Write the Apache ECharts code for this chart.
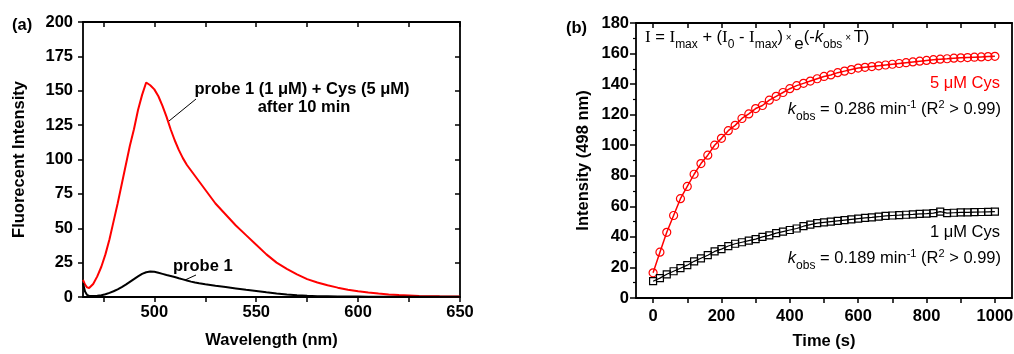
<!DOCTYPE html>
<html>
<head>
<meta charset="utf-8">
<script src="https://cdn.jsdelivr.net/npm/echarts@6/dist/echarts.min.js"></script>
<style>
  html, body { margin: 0; padding: 0; background: #fff; }
  #chart { width: 1014px; height: 354px; }
</style>
</head>
<body>
<div id="chart"></div>
<script>
// (a) emission spectra
const wavelength = [465, 466, 467, 468, 470, 472, 474, 476, 478, 480, 482, 484, 486, 488, 490, 492, 494, 496, 498, 500,
  502, 504, 506, 508, 510, 512, 514, 516, 518, 520, 522, 525, 530, 535, 540, 545, 550, 555, 560, 565,
  570, 575, 580, 585, 590, 595, 600, 605, 610, 615, 620, 630, 640, 650];
const probeCys = [12.5, 9, 7, 6.5, 9.5, 15, 22, 31, 42, 55, 68, 82, 96, 110, 122, 136, 147, 156, 154, 151,
  146, 139, 131, 122, 114, 107, 101, 96, 92, 88, 84, 78, 68, 60, 52, 45, 38, 31, 25, 20.5,
  16.5, 13, 10.5, 8.5, 6.8, 5.3, 4.2, 3.3, 2.5, 1.9, 1.4, 0.8, 0.5, 0.3];
const probeOnly = [10, 4, 1.5, 0.8, 0.7, 0.9, 1.3, 2, 3, 4.2, 5.6, 7.2, 9, 11, 13, 15, 16.8, 18, 18.5, 18.3,
  17.6, 16.8, 16, 15.3, 14.5, 13.6, 12.8, 12, 11.2, 10.5, 10, 9.3, 8.2, 7.2, 6.2, 5.2, 4.3, 3.4, 2.6, 1.9,
  1.3, 0.9, 0.6, 0.5, 0.4, 0.3, 0.3, 0.25, 0.2, 0.2, 0.2, 0.15, 0.1, 0.1];
const wlTicks = [475, 500, 525, 550, 575, 600, 625, 650];
const wlLabels = [500, 550, 600, 650];

// (b) kinetics
const timeS = [0, 20, 40, 60, 80, 100, 120, 140, 160, 180, 200, 220, 240, 260, 280, 300, 320, 340, 360, 380,
  400, 420, 440, 460, 480, 500, 520, 540, 560, 580, 600, 620, 640, 660, 680, 700, 720, 740, 760, 780,
  800, 820, 840, 860, 880, 900, 920, 940, 960, 980, 1000];
const cys5 = [16.5, 30, 43, 54, 65, 73, 81, 88, 93.5, 100, 104.5, 109.5, 113, 117.5, 120.5, 124, 126, 129.5, 132, 134.5,
  137, 139, 140.5, 142, 143.5, 145, 146, 147.5, 148.5, 149.5, 150.5, 151, 151.5, 152, 152.5, 153, 153.5, 154, 154.5, 155,
  155.5, 156, 156.3, 156.6, 157, 157.2, 157.4, 157.6, 157.8, 158, 158.2];
const cys1 = [11, 13, 15.5, 17.5, 19.5, 21.5, 24, 26, 28, 30.5, 32, 34, 35.5, 36.5, 37.5, 38.5, 40, 41, 42.5, 43.5,
  44.5, 45.5, 47, 48, 49, 49.5, 50, 50.5, 51, 51.5, 52, 52.5, 52.8, 53.2, 53.7, 54, 54.2, 54.5, 54.7, 55,
  55.2, 55.5, 56.5, 55.6, 55.8, 56, 56, 56.2, 56.3, 56.4, 56.5];
const timeTicks = [0, 100, 200, 300, 400, 500, 600, 700, 800, 900, 1000];
const timeLabels = [0, 200, 400, 600, 800, 1000];

const SANS = 'Liberation Sans, Arial, sans-serif';
const FS = 16.5;
const zip = (xs, ys) => xs.map((x, i) => [x, ys[i]]);

const boldLabel = {
  color: '#000', fontFamily: SANS, fontWeight: 'bold', fontSize: FS,
  formatter: (v) => String(v)
};
const line = { show: true, onZero: false, lineStyle: { color: '#000', width: 1.8 } };
const tick = (inside, customValues, length) => ({
  show: true, inside, length: length || 5, customValues,
  lineStyle: { color: '#000', width: 1.5 }
});
const nameStyle = { color: '#000', fontFamily: SANS, fontWeight: 'bold', fontSize: FS };

// rich styles for sub/superscripts (all top aligned, padding shifts them down)
const tok = (size, pad, extra) => Object.assign({
  fontFamily: SANS, fontSize: size, color: '#000', lineHeight: 24,
  verticalAlign: 'top', padding: [pad, 0, 0, 0]
}, extra || {});
const rich = {
  m: tok(FS, 2),
  I: tok(17, 2, { fontFamily: 'Liberation Serif, Times New Roman, serif' }),
  s: tok(12, 12),
  x: tok(10, 6),
  e: tok(17, 9),
  k: tok(FS, 2, { fontStyle: 'italic' }),
  p: tok(11, 0)
};

const chart = echarts.init(document.getElementById('chart'));
chart.setOption({
  animation: false,
  backgroundColor: '#fff',
  grid: [
    { left: 83, top: 22, width: 377, height: 275, outerBoundsMode: 'none' },
    { left: 636, top: 23, width: 376, height: 275, outerBoundsMode: 'none' }
  ],
  xAxis: [
    {
      gridIndex: 0, type: 'value', min: 465, max: 650, position: 'bottom',
      axisLine: line, axisTick: tick(false, wlTicks),
      axisLabel: Object.assign({ customValues: wlLabels, margin: 7 }, boldLabel),
      splitLine: { show: false },
      name: 'Wavelength (nm)', nameLocation: 'middle', nameGap: 35, nameTextStyle: nameStyle
    },
    {
      gridIndex: 0, type: 'value', min: 465, max: 650, position: 'top',
      axisLine: line, axisTick: tick(true, wlTicks), axisLabel: { show: false }, splitLine: { show: false }
    },
    {
      gridIndex: 1, type: 'value', min: -50, max: 1050, position: 'bottom',
      axisLine: line, axisTick: tick(false, timeTicks),
      axisLabel: Object.assign({ customValues: timeLabels, margin: 10 }, boldLabel),
      splitLine: { show: false },
      name: 'Time (s)', nameLocation: 'middle', nameGap: 35, nameTextStyle: nameStyle
    },
    {
      gridIndex: 1, type: 'value', min: -50, max: 1050, position: 'top',
      axisLine: line, axisTick: tick(true, timeTicks), axisLabel: { show: false }, splitLine: { show: false }
    }
  ],
  yAxis: [
    {
      gridIndex: 0, type: 'value', min: 0, max: 200, interval: 25, position: 'left',
      axisLine: line, axisTick: tick(false),
      axisLabel: Object.assign({ margin: 10 }, boldLabel),
      splitLine: { show: false },
      name: 'Fluorecent Intensity', nameLocation: 'middle', nameGap: 55, nameTextStyle: nameStyle
    },
    {
      gridIndex: 0, type: 'value', min: 0, max: 200, interval: 25, position: 'right',
      axisLine: line, axisTick: tick(true), axisLabel: { show: false }, splitLine: { show: false }
    },
    {
      gridIndex: 1, type: 'value', min: 0, max: 180, interval: 20, position: 'left',
      axisLine: line, axisTick: tick(false, undefined, 6),
      minorTick: { show: true, splitNumber: 2, length: 3, lineStyle: { color: '#000', width: 1.2 } },
      axisLabel: Object.assign({ margin: 7 }, boldLabel),
      splitLine: { show: false }, minorSplitLine: { show: false },
      name: 'Intensity (498 nm)', nameLocation: 'middle', nameGap: 44, nameTextStyle: nameStyle
    },
    {
      gridIndex: 1, type: 'value', min: 0, max: 180, position: 'right',
      axisLine: line, axisTick: { show: false }, axisLabel: { show: false }, splitLine: { show: false }
    }
  ],
  series: [
    {
      name: 'probe 1 + Cys', type: 'line', xAxisIndex: 0, yAxisIndex: 0,
      data: zip(wavelength, probeCys), showSymbol: false,
      lineStyle: { color: '#ff0000', width: 2 }, itemStyle: { color: '#ff0000' }
    },
    {
      name: 'probe 1', type: 'line', xAxisIndex: 0, yAxisIndex: 0,
      data: zip(wavelength, probeOnly), showSymbol: false,
      lineStyle: { color: '#000', width: 2 }, itemStyle: { color: '#000' }
    },
    {
      name: '5 uM Cys', type: 'line', xAxisIndex: 2, yAxisIndex: 2,
      data: zip(timeS, cys5), symbol: 'circle', symbolSize: 8, showAllSymbol: true,
      lineStyle: { color: '#ff0000', width: 1.5 },
      itemStyle: { color: 'rgba(255,255,255,0)', borderColor: '#ff0000', borderWidth: 1.2 }
    },
    {
      name: '1 uM Cys', type: 'line', xAxisIndex: 2, yAxisIndex: 2,
      data: zip(timeS, cys1), symbol: 'rect', symbolSize: 7, showAllSymbol: true,
      lineStyle: { color: '#000', width: 1.2 },
      itemStyle: { color: 'rgba(255,255,255,0)', borderColor: '#000', borderWidth: 1.2 }
    }
  ],
  graphic: [
    { type: 'text', style: { text: '(a)', x: 12, y: 25, font: 'bold 16.5px ' + SANS, fill: '#000', align: 'left', verticalAlign: 'middle' } },
    { type: 'text', style: { text: '(b)', x: 566, y: 28, font: 'bold 16.5px ' + SANS, fill: '#000', align: 'left', verticalAlign: 'middle' } },
    { type: 'text', style: { text: 'probe 1 (1 μM) + Cys (5 μM)', x: 302, y: 89, font: 'bold 16.5px ' + SANS, fill: '#000', align: 'center', verticalAlign: 'middle' } },
    { type: 'text', style: { text: 'after 10 min', x: 304, y: 107, font: 'bold 16.5px ' + SANS, fill: '#000', align: 'center', verticalAlign: 'middle' } },
    { type: 'text', style: { text: 'probe 1', x: 173, y: 266, font: 'bold 16.5px ' + SANS, fill: '#000', align: 'left', verticalAlign: 'middle' } },
    { type: 'line', shape: { x1: 196, y1: 99, x2: 169, y2: 121 }, style: { stroke: '#000', lineWidth: 1 } },
    { type: 'line', shape: { x1: 185, y1: 280, x2: 196, y2: 275 }, style: { stroke: '#000', lineWidth: 1 } },
    {
      type: 'text',
      style: {
        text: '{I|I}{m| = }{I|I}{s|max}{m| + (}{I|I}{s|0}{m| - }{I|I}{s|max}{m|)}{x| × }{e|e}{m|(-}{k|k}{s|obs}{x| × }{m|T)}',
        x: 645, y: 27, align: 'left', verticalAlign: 'top', rich
      }
    },
    { type: 'text', style: { text: '5 μM Cys', x: 1000, y: 83, font: '16.5px ' + SANS, fill: '#ff0000', align: 'right', verticalAlign: 'middle' } },
    {
      type: 'text',
      style: {
        text: '{k|k}{s|obs}{m| = 0.286 min}{p|-1}{m| (R}{p|2}{m| > 0.99)}',
        x: 1001, y: 99, align: 'right', verticalAlign: 'top', rich
      }
    },
    { type: 'text', style: { text: '1 μM Cys', x: 1000, y: 232, font: '16.5px ' + SANS, fill: '#000', align: 'right', verticalAlign: 'middle' } },
    {
      type: 'text',
      style: {
        text: '{k|k}{s|obs}{m| = 0.189 min}{p|-1}{m| (R}{p|2}{m| > 0.99)}',
        x: 1001, y: 248, align: 'right', verticalAlign: 'top', rich
      }
    }
  ]
});
</script>
</body>
</html>
